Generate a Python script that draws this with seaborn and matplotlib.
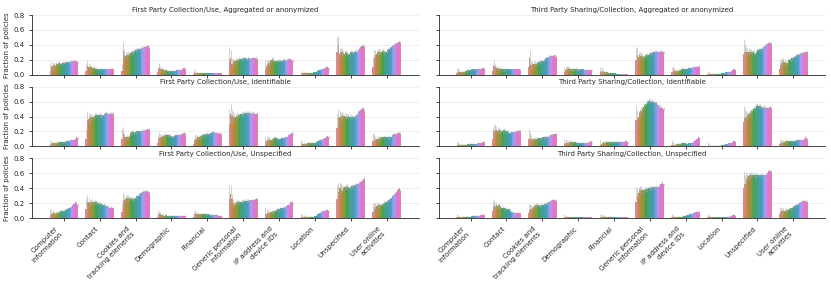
import numpy as np
import pandas as pd
import matplotlib
matplotlib.use("Agg")
import matplotlib.pyplot as plt
import seaborn as sns

# category labels (x axis) and year levels (hue)
categories = ["Computer information", "Contact", "Cookies and tracking elements",
              "Demographic", "Financial", "Generic personal information",
              "IP address and device IDs", "Location", "Unspecified",
              "User online activities"]
tick_labels = ["Computer\ninformation", "Contact", "Cookies and\ntracking elements",
               "Demographic", "Financial", "Generic personal\ninformation",
               "IP address and\ndevice IDs", "Location", "Unspecified",
               "User online\nactivities"]
years = [str(y) for y in range(1997, 2020)]
# number of policies per year (used for the binomial confidence intervals)
n_policies = [20, 60, 150, 300, 450, 600, 750, 900, 1000, 1100, 1200, 1300,
              1400, 1500, 1600, 1700, 1800, 1900, 2000, 2100, 2200, 2300, 1500]

titles = ["First Party Collection/Use, Aggregated or anonymized",
          "Third Party Sharing/Collection, Aggregated or anonymized",
          "First Party Collection/Use, Identifiable",
          "Third Party Sharing/Collection, Identifiable",
          "First Party Collection/Use, Unspecified",
          "Third Party Sharing/Collection, Unspecified"]

# percent of policies, one row per category, one value per year
fp_aggregated = [
    [5, 10, 12, 13, 12, 14, 15, 16, 15, 15, 16, 16, 16, 17, 17, 17, 17, 18, 18, 18, 18, 18, 17],
    [5, 12, 11, 10, 10, 9, 9, 9, 8, 8, 8, 8, 8, 8, 7, 8, 8, 7, 7, 8, 8, 8, 7],
    [5, 32, 27, 25, 27, 27, 28, 29, 30, 31, 32, 33, 33, 34, 35, 35, 36, 36, 37, 37, 38, 38, 36],
    [3, 9, 8, 7, 7, 6, 6, 6, 5, 5, 5, 5, 5, 5, 5, 6, 6, 6, 6, 6, 7, 9, 8],
    [1, 3, 2, 2, 2, 2, 2, 2, 2, 2, 2, 2, 2, 2, 2, 2, 2, 2, 2, 2, 2, 2, 2],
    [20, 22, 15, 17, 18, 19, 20, 20, 21, 21, 21, 22, 22, 22, 21, 22, 22, 21, 22, 22, 22, 23, 21],
    [8, 12, 14, 16, 18, 20, 21, 19, 18, 18, 19, 19, 19, 19, 19, 20, 19, 20, 20, 21, 21, 20, 19],
    [1, 2, 2, 2, 2, 2, 2, 2, 2, 2, 3, 3, 4, 5, 6, 6, 7, 7, 8, 9, 10, 10, 9],
    [30, 40, 28, 30, 31, 29, 28, 30, 29, 27, 28, 30, 30, 29, 31, 32, 31, 33, 35, 37, 38, 39, 37],
    [10, 22, 26, 28, 30, 31, 31, 31, 32, 31, 30, 31, 33, 35, 36, 37, 38, 40, 41, 42, 43, 44, 43],
]
tp_aggregated = [
    [2, 4, 4, 3, 3, 4, 4, 5, 5, 6, 6, 6, 7, 7, 7, 7, 8, 8, 8, 8, 8, 9, 8],
    [5, 12, 10, 9, 9, 8, 8, 8, 7, 7, 7, 7, 7, 7, 7, 7, 7, 7, 7, 7, 7, 7, 6],
    [10, 22, 13, 14, 15, 15, 15, 16, 17, 17, 18, 18, 19, 20, 22, 23, 24, 24, 25, 25, 25, 26, 24],
    [3, 6, 8, 9, 8, 7, 7, 7, 7, 7, 7, 7, 6, 7, 7, 7, 6, 6, 6, 6, 6, 6, 6],
    [3, 5, 4, 3, 3, 3, 3, 2, 2, 2, 2, 2, 2, 1, 1, 1, 1, 1, 1, 1, 1, 1, 1],
    [20, 26, 24, 26, 25, 25, 24, 25, 26, 27, 27, 28, 29, 29, 30, 31, 31, 31, 30, 31, 31, 31, 30],
    [3, 5, 6, 5, 5, 5, 6, 6, 8, 8, 8, 8, 8, 9, 9, 9, 9, 10, 10, 10, 11, 11, 11],
    [1, 1, 1, 1, 1, 1, 1, 1, 1, 1, 1, 2, 2, 2, 3, 3, 3, 4, 4, 5, 6, 7, 6],
    [28, 30, 30, 31, 31, 31, 31, 30, 31, 28, 30, 33, 33, 34, 35, 35, 37, 39, 40, 41, 43, 42, 41],
    [8, 13, 16, 18, 17, 16, 16, 20, 20, 21, 22, 23, 24, 25, 26, 27, 28, 28, 29, 29, 30, 31, 30],
]
fp_identifiable = [
    [2, 3, 4, 4, 4, 5, 5, 6, 6, 6, 6, 6, 6, 7, 7, 7, 8, 8, 9, 9, 10, 12, 11],
    [10, 35, 37, 38, 39, 39, 40, 41, 42, 42, 42, 42, 42, 41, 42, 43, 45, 44, 43, 44, 44, 44, 43],
    [10, 16, 13, 12, 12, 12, 13, 18, 19, 19, 18, 19, 20, 20, 20, 20, 21, 21, 21, 22, 22, 23, 22],
    [5, 11, 12, 13, 14, 14, 15, 15, 15, 15, 14, 14, 13, 14, 15, 15, 15, 15, 15, 16, 17, 18, 17],
    [3, 9, 10, 12, 12, 13, 14, 15, 15, 16, 16, 17, 17, 17, 18, 19, 19, 18, 18, 18, 18, 17, 17],
    [30, 44, 41, 40, 40, 40, 41, 42, 42, 43, 44, 44, 45, 45, 45, 45, 45, 45, 44, 45, 44, 43, 43],
    [4, 7, 8, 9, 9, 8, 10, 11, 12, 11, 10, 10, 10, 11, 11, 11, 12, 12, 13, 15, 17, 18, 17],
    [2, 3, 3, 3, 3, 4, 4, 4, 4, 5, 5, 5, 6, 7, 7, 8, 9, 10, 10, 11, 12, 14, 13],
    [25, 38, 39, 40, 41, 41, 41, 40, 40, 41, 40, 40, 39, 40, 39, 41, 42, 46, 47, 49, 50, 51, 47],
    [7, 9, 9, 10, 10, 11, 11, 12, 12, 13, 12, 12, 12, 12, 13, 13, 15, 16, 16, 17, 18, 18, 17],
]
tp_identifiable = [
    [1, 2, 2, 2, 2, 2, 2, 2, 2, 3, 3, 3, 3, 3, 3, 3, 3, 4, 4, 5, 5, 6, 6],
    [10, 20, 22, 22, 21, 22, 21, 20, 21, 22, 21, 20, 20, 18, 18, 19, 19, 19, 19, 20, 20, 21, 20],
    [10, 11, 10, 9, 10, 10, 10, 10, 11, 11, 11, 12, 12, 12, 12, 13, 13, 14, 15, 15, 16, 17, 16],
    [3, 5, 5, 5, 6, 6, 6, 6, 6, 6, 5, 5, 5, 5, 5, 5, 5, 5, 5, 5, 6, 7, 6],
    [2, 3, 4, 5, 5, 6, 6, 6, 6, 6, 6, 6, 6, 6, 6, 6, 6, 6, 6, 6, 7, 7, 6],
    [35, 37, 40, 45, 48, 50, 53, 55, 57, 59, 61, 62, 60, 61, 59, 59, 58, 56, 55, 53, 52, 51, 50],
    [2, 2, 2, 2, 3, 3, 3, 3, 4, 4, 4, 4, 3, 4, 4, 4, 5, 6, 7, 8, 10, 12, 11],
    [1, 1, 1, 1, 1, 1, 1, 1, 1, 1, 1, 2, 2, 2, 3, 3, 3, 4, 4, 5, 6, 7, 6],
    [33, 38, 40, 42, 43, 45, 47, 48, 50, 52, 54, 55, 54, 54, 53, 52, 53, 52, 51, 51, 51, 53, 50],
    [3, 4, 5, 6, 6, 7, 7, 7, 7, 7, 7, 7, 7, 7, 8, 8, 8, 8, 8, 9, 10, 12, 10],
]
fp_unspecified = [
    [4, 6, 7, 7, 6, 7, 7, 8, 9, 10, 10, 10, 11, 12, 12, 13, 14, 15, 17, 19, 21, 20, 18],
    [12, 21, 21, 20, 21, 22, 21, 21, 22, 20, 20, 19, 19, 18, 18, 17, 16, 16, 15, 14, 14, 13, 13],
    [8, 24, 24, 26, 27, 27, 26, 27, 25, 26, 26, 27, 29, 30, 31, 33, 34, 35, 35, 36, 36, 35, 34],
    [2, 5, 5, 4, 4, 3, 4, 4, 3, 3, 3, 3, 3, 3, 3, 3, 3, 3, 3, 3, 3, 3, 3],
    [2, 5, 5, 5, 5, 5, 5, 5, 5, 5, 5, 5, 5, 4, 4, 4, 4, 4, 4, 4, 3, 3, 3],
    [25, 32, 25, 20, 18, 20, 22, 21, 21, 22, 22, 23, 23, 23, 23, 23, 24, 24, 24, 24, 24, 26, 25],
    [5, 6, 7, 7, 8, 8, 8, 9, 10, 11, 12, 12, 13, 13, 14, 14, 15, 16, 17, 18, 21, 22, 20],
    [1, 2, 2, 2, 2, 2, 2, 2, 2, 2, 2, 3, 3, 5, 6, 7, 8, 9, 10, 10, 11, 11, 10],
    [25, 35, 40, 41, 38, 40, 41, 42, 42, 41, 40, 42, 43, 43, 44, 44, 45, 45, 47, 48, 50, 52, 52],
    [8, 12, 15, 16, 17, 17, 18, 18, 19, 20, 21, 22, 23, 24, 25, 27, 29, 31, 33, 35, 38, 39, 36],
]
tp_unspecified = [
    [1, 1, 1, 1, 1, 2, 2, 2, 2, 2, 2, 2, 3, 3, 3, 3, 3, 3, 3, 4, 4, 4, 4],
    [10, 16, 15, 17, 16, 17, 15, 14, 14, 13, 13, 12, 12, 12, 10, 8, 8, 7, 7, 7, 7, 7, 7],
    [7, 11, 12, 14, 15, 16, 17, 17, 17, 16, 17, 18, 18, 19, 19, 20, 21, 22, 23, 24, 24, 24, 23],
    [1, 1, 1, 1, 1, 1, 1, 1, 1, 1, 1, 1, 1, 1, 1, 1, 1, 1, 1, 1, 1, 1, 1],
    [1, 2, 2, 2, 2, 2, 2, 2, 2, 2, 2, 2, 1, 1, 1, 1, 1, 1, 1, 1, 1, 1, 1],
    [22, 30, 34, 37, 38, 37, 37, 38, 39, 39, 40, 40, 40, 41, 41, 41, 41, 42, 42, 43, 45, 47, 45],
    [1, 1, 1, 1, 1, 2, 2, 2, 2, 3, 3, 3, 4, 4, 5, 6, 6, 7, 7, 8, 8, 8, 8],
    [1, 1, 1, 1, 1, 1, 1, 1, 1, 1, 1, 1, 1, 1, 1, 2, 2, 2, 3, 3, 4, 4, 3],
    [40, 45, 52, 55, 56, 57, 58, 58, 57, 58, 57, 58, 57, 57, 57, 58, 57, 57, 58, 60, 63, 63, 62],
    [5, 8, 9, 10, 10, 10, 11, 11, 12, 13, 14, 15, 16, 17, 18, 19, 20, 21, 22, 23, 23, 23, 22],
]

panels = [fp_aggregated, tp_aggregated, fp_identifiable,
          tp_identifiable, fp_unspecified, tp_unspecified]


def to_long(table):
    rows = []
    for cat, vals in zip(categories, table):
        for yr, v in zip(years, vals):
            rows.append({"category": cat, "year": yr, "fraction": v / 100})
    return pd.DataFrame(rows)


sns.set_style("ticks")
plt.rcParams["font.size"] = 5

palette = sns.color_palette("husl", len(years))
fig, axes = plt.subplots(3, 2, figsize=(8.31, 2.87), dpi=100, sharex=True, sharey=True)
fig.subplots_adjust(left=0.0385, right=0.993, bottom=0.2404, top=0.9477,
                    wspace=0.052, hspace=0.2)

for ax, table, title in zip(axes.flat, panels, titles):
    df = to_long(table)
    sns.barplot(data=df, x="category", y="fraction", hue="year",
                order=categories, hue_order=years, palette=palette,
                errorbar=None, legend=False, linewidth=0, ax=ax)
    # 95% binomial intervals, only the part sticking out above the bar is visible
    for yr_idx, bars in enumerate(ax.containers):
        n = n_policies[yr_idx]
        for bar in bars:
            p = bar.get_height()
            err = 1.96 * np.sqrt(p * (1 - p) / n)
            xc = bar.get_x() + bar.get_width() / 2
            ax.vlines(xc, max(p - err, 0), p + err, color="0.65", lw=0.45,
                      alpha=0.8, zorder=3)
    ax.set_title(title, fontsize=5, pad=2)
    ax.set_ylim(0, 0.8)
    ax.set_yticks([0.0, 0.2, 0.4, 0.6, 0.8])
    ax.yaxis.grid(True, color="#ebebeb", lw=0.6)
    ax.set_axisbelow(True)
    ax.set_xlabel("")
    ax.set_ylabel("")
    ax.tick_params(labelsize=5, length=2, width=0.6)
    for s in ax.spines.values():
        s.set_linewidth(0.6)
    sns.despine(ax=ax)

for ax in axes[:, 0]:
    ax.set_ylabel("Fraction of policies", fontsize=5, labelpad=2)

for ax in axes[2]:
    ax.set_xticks(range(len(categories)))
    ax.set_xticklabels(tick_labels, rotation=45, ha="right", fontsize=5)

fig.savefig("out.png", dpi=100)
